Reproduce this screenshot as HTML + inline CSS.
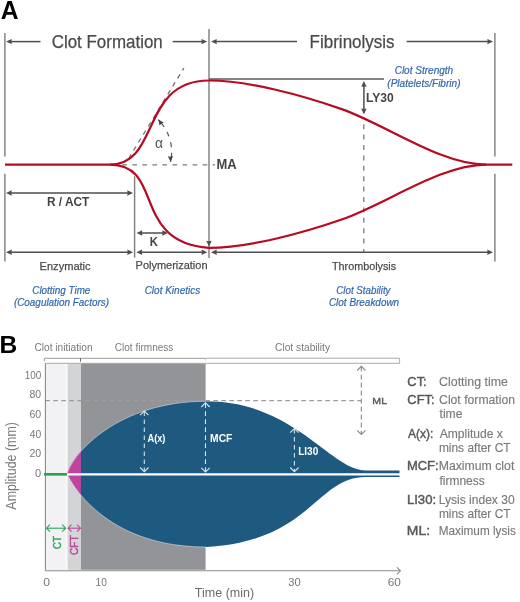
<!DOCTYPE html>
<html><head><meta charset="utf-8"><style>
html,body{margin:0;padding:0;background:#fff;}
svg{display:block;will-change:transform;font-family:"Liberation Sans",sans-serif;}
</style></head><body>
<svg width="520" height="602" viewBox="0 0 520 602">
<text x="0.68" y="19.10" font-size="25.60" font-weight="bold" font-style="normal" fill="#000" textLength="17.79" lengthAdjust="spacingAndGlyphs">A</text>
<line x1="4.90" y1="33.00" x2="4.90" y2="156.40" stroke="#7c7c7c" stroke-width="1.40"/>
<line x1="4.90" y1="173.70" x2="4.90" y2="261.50" stroke="#7c7c7c" stroke-width="1.40"/>
<line x1="494.90" y1="33.00" x2="494.90" y2="156.40" stroke="#7c7c7c" stroke-width="1.40"/>
<line x1="494.90" y1="173.70" x2="494.90" y2="261.50" stroke="#7c7c7c" stroke-width="1.40"/>
<line x1="209.00" y1="29.00" x2="209.00" y2="258.00" stroke="#7c7c7c" stroke-width="1.40"/>
<line x1="134.60" y1="176.30" x2="134.60" y2="257.60" stroke="#7c7c7c" stroke-width="1.40"/>
<line x1="10.50" y1="41.60" x2="40.50" y2="41.60" stroke="#4b4f52" stroke-width="1.50"/>
<path d="M6.00 41.60L11.80 38.90L11.40 41.60L11.80 44.30Z" fill="#4b4f52" stroke="none" stroke-width="0.00"/>
<line x1="172.70" y1="41.60" x2="202.70" y2="41.60" stroke="#4b4f52" stroke-width="1.50"/>
<path d="M207.20 41.60L201.40 44.30L201.80 41.60L201.40 38.90Z" fill="#4b4f52" stroke="none" stroke-width="0.00"/>
<line x1="215.50" y1="41.60" x2="297.00" y2="41.60" stroke="#4b4f52" stroke-width="1.50"/>
<path d="M211.00 41.60L216.80 38.90L216.40 41.60L216.80 44.30Z" fill="#4b4f52" stroke="none" stroke-width="0.00"/>
<line x1="406.60" y1="41.60" x2="488.60" y2="41.60" stroke="#4b4f52" stroke-width="1.50"/>
<path d="M493.10 41.60L487.30 44.30L487.70 41.60L487.30 38.90Z" fill="#4b4f52" stroke="none" stroke-width="0.00"/>
<text x="51.65" y="47.80" font-size="19.00" font-weight="normal" font-style="normal" fill="#4a4a4a" textLength="111.11" lengthAdjust="spacingAndGlyphs" stroke="#4a4a4a" stroke-width="0.25">Clot Formation</text>
<text x="309.60" y="47.70" font-size="18.60" font-weight="normal" font-style="normal" fill="#4a4a4a" textLength="85.02" lengthAdjust="spacingAndGlyphs" stroke="#4a4a4a" stroke-width="0.25">Fibrinolysis</text>
<line x1="209.00" y1="79.10" x2="384.00" y2="79.10" stroke="#5a5a5a" stroke-width="1.50"/>
<text x="394.65" y="73.80" font-size="10.50" font-weight="normal" font-style="italic" fill="#3467ae" textLength="58.52" lengthAdjust="spacingAndGlyphs" stroke="#3467ae" stroke-width="0.2">Clot Strength</text>
<text x="387.32" y="86.80" font-size="10.50" font-weight="normal" font-style="italic" fill="#3467ae" textLength="73.18" lengthAdjust="spacingAndGlyphs" stroke="#3467ae" stroke-width="0.2">(Platelets/Fibrin)</text>
<line x1="363.90" y1="85.00" x2="363.90" y2="110.00" stroke="#4b4f52" stroke-width="1.50"/>
<path d="M363.90 81.00L366.60 86.80L363.90 86.40L361.20 86.80Z" fill="#4b4f52" stroke="none" stroke-width="0.00"/>
<path d="M363.90 114.40L361.20 108.60L363.90 109.00L366.60 108.60Z" fill="#4b4f52" stroke="none" stroke-width="0.00"/>
<text x="366.09" y="101.70" font-size="12.60" font-weight="bold" font-style="normal" fill="#444" textLength="27.71" lengthAdjust="spacingAndGlyphs">LY30</text>
<line x1="363.80" y1="117.50" x2="363.80" y2="252.00" stroke="#7a7a7a" stroke-width="1.30" stroke-dasharray="5 5.4" stroke-dashoffset="3.7"/>
<line x1="129.10" y1="157.70" x2="183.90" y2="68.10" stroke="#6a6a6a" stroke-width="1.20" stroke-dasharray="4.7 4.7" stroke-dashoffset="1"/>
<path d="M158.3 119.6 A46 46 0 0 1 170.6 161.8" fill="none" stroke="#555" stroke-width="1.20" stroke-dasharray="9.5 5.7 4.8 5.9 5.2 5.5 12"/>
<path d="M158.30 119.60L163.68 122.44L161.36 123.68L159.52 125.56Z" fill="#444" stroke="none" stroke-width="0.00"/>
<path d="M170.60 161.80L167.89 156.35L170.50 156.70L173.09 156.25Z" fill="#444" stroke="none" stroke-width="0.00"/>
<text x="155.01" y="147.50" font-size="14.00" font-weight="normal" font-style="normal" fill="#555" textLength="7.97" lengthAdjust="spacingAndGlyphs">α</text>
<line x1="122.25" y1="164.80" x2="215.00" y2="164.80" stroke="#7a7a7a" stroke-width="1.30" stroke-dasharray="4.6 5.45"/>
<text x="216.43" y="168.90" font-size="14.20" font-weight="bold" font-style="normal" fill="#444" textLength="20.13" lengthAdjust="spacingAndGlyphs">MA</text>
<path d="M209.00 246.60L206.30 240.80L209.00 241.20L211.70 240.80Z" fill="#4b4f52" stroke="none" stroke-width="0.00"/>
<line x1="10.50" y1="193.00" x2="128.50" y2="193.00" stroke="#4b4f52" stroke-width="1.50"/>
<path d="M6.00 193.00L11.80 190.30L11.40 193.00L11.80 195.70Z" fill="#4b4f52" stroke="none" stroke-width="0.00"/>
<path d="M133.00 193.00L127.20 195.70L127.60 193.00L127.20 190.30Z" fill="#4b4f52" stroke="none" stroke-width="0.00"/>
<text x="46.90" y="205.80" font-size="12.50" font-weight="bold" font-style="normal" fill="#444" textLength="42.44" lengthAdjust="spacingAndGlyphs">R / ACT</text>
<line x1="141.00" y1="233.00" x2="163.50" y2="233.00" stroke="#4b4f52" stroke-width="1.50"/>
<path d="M136.50 233.00L142.30 230.30L141.90 233.00L142.30 235.70Z" fill="#4b4f52" stroke="none" stroke-width="0.00"/>
<path d="M168.00 233.00L162.20 235.70L162.60 233.00L162.20 230.30Z" fill="#4b4f52" stroke="none" stroke-width="0.00"/>
<text x="149.84" y="245.50" font-size="13.20" font-weight="bold" font-style="normal" fill="#444" textLength="8.17" lengthAdjust="spacingAndGlyphs">K</text>
<line x1="10.50" y1="252.20" x2="128.60" y2="252.20" stroke="#4b4f52" stroke-width="1.50"/>
<path d="M6.00 252.20L11.80 249.50L11.40 252.20L11.80 254.90Z" fill="#4b4f52" stroke="none" stroke-width="0.00"/>
<path d="M133.10 252.20L127.30 254.90L127.70 252.20L127.30 249.50Z" fill="#4b4f52" stroke="none" stroke-width="0.00"/>
<line x1="140.90" y1="252.20" x2="202.80" y2="252.20" stroke="#4b4f52" stroke-width="1.50"/>
<path d="M136.40 252.20L142.20 249.50L141.80 252.20L142.20 254.90Z" fill="#4b4f52" stroke="none" stroke-width="0.00"/>
<path d="M207.30 252.20L201.50 254.90L201.90 252.20L201.50 249.50Z" fill="#4b4f52" stroke="none" stroke-width="0.00"/>
<line x1="215.50" y1="252.20" x2="488.50" y2="252.20" stroke="#4b4f52" stroke-width="1.50"/>
<path d="M211.00 252.20L216.80 249.50L216.40 252.20L216.80 254.90Z" fill="#4b4f52" stroke="none" stroke-width="0.00"/>
<path d="M493.00 252.20L487.20 254.90L487.60 252.20L487.20 249.50Z" fill="#4b4f52" stroke="none" stroke-width="0.00"/>
<text x="39.59" y="269.60" font-size="11.80" font-weight="normal" font-style="normal" fill="#4a4a4a" textLength="51.02" lengthAdjust="spacingAndGlyphs" stroke="#4a4a4a" stroke-width="0.25">Enzymatic</text>
<text x="135.60" y="269.40" font-size="11.80" font-weight="normal" font-style="normal" fill="#4a4a4a" textLength="71.90" lengthAdjust="spacingAndGlyphs" stroke="#4a4a4a" stroke-width="0.25">Polymerization</text>
<text x="332.06" y="269.60" font-size="11.80" font-weight="normal" font-style="normal" fill="#4a4a4a" textLength="64.03" lengthAdjust="spacingAndGlyphs" stroke="#4a4a4a" stroke-width="0.25">Thrombolysis</text>
<text x="32.26" y="293.50" font-size="10.30" font-weight="normal" font-style="italic" fill="#3467ae" textLength="58.11" lengthAdjust="spacingAndGlyphs" stroke="#3467ae" stroke-width="0.2">Clotting Time</text>
<text x="13.93" y="306.20" font-size="10.30" font-weight="normal" font-style="italic" fill="#3467ae" textLength="95.17" lengthAdjust="spacingAndGlyphs" stroke="#3467ae" stroke-width="0.2">(Coagulation Factors)</text>
<text x="144.65" y="293.50" font-size="10.30" font-weight="normal" font-style="italic" fill="#3467ae" textLength="55.55" lengthAdjust="spacingAndGlyphs" stroke="#3467ae" stroke-width="0.2">Clot Kinetics</text>
<text x="336.26" y="293.50" font-size="10.30" font-weight="normal" font-style="italic" fill="#3467ae" textLength="54.25" lengthAdjust="spacingAndGlyphs" stroke="#3467ae" stroke-width="0.2">Clot Stability</text>
<text x="328.95" y="306.30" font-size="10.30" font-weight="normal" font-style="italic" fill="#3467ae" textLength="70.21" lengthAdjust="spacingAndGlyphs" stroke="#3467ae" stroke-width="0.2">Clot Breakdown</text>
<path d="M5 164.6H110C160.3 164.6 140.3 80.5 209 80.5C247.5 80.5 301.3 94.9 341.7 109.1C386.7 125 440.6 164.6 486 164.6H512.3" fill="none" stroke="#b80a22" stroke-width="2.20"/>
<path d="M110 164.6C164.5 164.6 131.1 242.4 209 247.9C247.5 247.86 301.3 233.6 341.7 219.54C386.7 203.8 440.6 164.6 486 164.6" fill="none" stroke="#b80a22" stroke-width="2.20"/>
<text x="-0.46" y="352.80" font-size="24.80" font-weight="bold" font-style="normal" fill="#000" textLength="17.76" lengthAdjust="spacingAndGlyphs">B</text>
<text x="34.49" y="351.20" font-size="10.00" font-weight="normal" font-style="normal" fill="#7a7a7a" textLength="58.15" lengthAdjust="spacingAndGlyphs">Clot initiation</text>
<text x="114.80" y="351.40" font-size="10.00" font-weight="normal" font-style="normal" fill="#7a7a7a" textLength="58.55" lengthAdjust="spacingAndGlyphs">Clot firmness</text>
<text x="275.09" y="351.40" font-size="10.00" font-weight="normal" font-style="normal" fill="#7a7a7a" textLength="54.94" lengthAdjust="spacingAndGlyphs">Clot stability</text>
<rect x="45.3" y="363.3" width="20.3" height="206.5" fill="#f2f2f4"/>
<rect x="65.8" y="363.3" width="1.6" height="206.5" fill="#f7f7f8"/>
<rect x="67.6" y="363.3" width="13.4" height="206.5" fill="#d3d4d6"/>
<rect x="81" y="363.3" width="124.6" height="206.5" fill="#939498"/>
<line x1="44.30" y1="358.30" x2="205.60" y2="358.30" stroke="#999" stroke-width="1.00"/>
<line x1="44.30" y1="358.30" x2="44.30" y2="361.20" stroke="#999" stroke-width="1.00"/>
<line x1="80.50" y1="358.30" x2="80.50" y2="361.60" stroke="#666" stroke-width="1.00"/>
<path d="M205.6 358.2H399.6V363.3H205.6" fill="none" stroke="#aaa" stroke-width="1.00"/>
<line x1="205.60" y1="358.20" x2="205.60" y2="360.50" stroke="#bbb" stroke-width="0.80"/>
<line x1="45.30" y1="363.30" x2="205.60" y2="363.30" stroke="#aaa" stroke-width="1.00"/>
<clipPath id="cl"><path d="M67.2 474C72.8 452.9 118.5 401.3 206 401.3C294.8 401.3 330.4 470.4 366 470.4H399.5V477H366C315.6 477 311.5 541.2 206 547C112.3 547 75.2 491.4 67.2 474Z"/></clipPath>
<path d="M67.2 474C72.8 452.9 118.5 401.3 206 401.3C294.8 401.3 330.4 470.4 366 470.4H399.5V477H366C315.6 477 311.5 541.2 206 547C112.3 547 75.2 491.4 67.2 474Z" fill="#1e5a80" stroke="none" stroke-width="0.00"/>
<rect x="60" y="380" width="20.9" height="200" fill="#c0449e" clip-path="url(#cl)"/>
<clipPath id="cl2"><rect x="45" y="360" width="161" height="212"/></clipPath>
<path d="M67.2 474C72.8 452.9 118.5 401.3 206 401.3C294.8 401.3 330.4 470.4 366 470.4H399.5V477H366C315.6 477 311.5 541.2 206 547C112.3 547 75.2 491.4 67.2 474Z" fill="none" stroke="#fff" stroke-width="1.00" stroke-opacity="0.45" clip-path="url(#cl2)"/>
<line x1="45.30" y1="400.70" x2="361.00" y2="400.70" stroke="#9c9c9c" stroke-width="1.30" stroke-dasharray="4.6 3.4"/>
<line x1="67.00" y1="474.40" x2="400.00" y2="474.40" stroke="#fff" stroke-width="2.40"/>
<line x1="44.00" y1="474.20" x2="67.00" y2="474.20" stroke="#27a24c" stroke-width="2.40"/>
<line x1="45.40" y1="363.30" x2="45.40" y2="570.80" stroke="#8a8a8a" stroke-width="1.10"/>
<line x1="45.40" y1="570.80" x2="400.00" y2="570.80" stroke="#8a8a8a" stroke-width="1.10"/>
<path d="M396.90 574.30L400.40 570.80L396.90 567.30" fill="none" stroke="#8a8a8a" stroke-width="1.10" stroke-linejoin="miter"/>
<line x1="44.00" y1="474.20" x2="67.00" y2="474.20" stroke="#27a24c" stroke-width="2.40"/>
<text x="24.66" y="378.80" font-size="10.30" font-weight="normal" font-style="normal" fill="#777" textLength="16.52" lengthAdjust="spacingAndGlyphs">100</text>
<text x="29.55" y="398.40" font-size="10.30" font-weight="normal" font-style="normal" fill="#777" textLength="11.66" lengthAdjust="spacingAndGlyphs">80</text>
<text x="29.47" y="418.00" font-size="10.30" font-weight="normal" font-style="normal" fill="#777" textLength="11.75" lengthAdjust="spacingAndGlyphs">60</text>
<text x="29.77" y="437.60" font-size="10.30" font-weight="normal" font-style="normal" fill="#777" textLength="11.44" lengthAdjust="spacingAndGlyphs">40</text>
<text x="29.47" y="457.20" font-size="10.30" font-weight="normal" font-style="normal" fill="#777" textLength="11.75" lengthAdjust="spacingAndGlyphs">20</text>
<text x="35.06" y="476.80" font-size="10.30" font-weight="normal" font-style="normal" fill="#777" textLength="6.17" lengthAdjust="spacingAndGlyphs">0</text>
<text x="-509.63" y="16.30" font-size="13.80" font-weight="normal" font-style="normal" fill="#777" textLength="87.47" lengthAdjust="spacingAndGlyphs" transform="rotate(-90 0 0)">Amplitude (mm)</text>
<text x="43.31" y="585.80" font-size="10.30" font-weight="normal" font-style="normal" fill="#777" textLength="6.76" lengthAdjust="spacingAndGlyphs">0</text>
<text x="95.53" y="585.80" font-size="10.30" font-weight="normal" font-style="normal" fill="#777" textLength="11.37" lengthAdjust="spacingAndGlyphs">10</text>
<text x="288.28" y="585.80" font-size="10.30" font-weight="normal" font-style="normal" fill="#777" textLength="12.47" lengthAdjust="spacingAndGlyphs">30</text>
<text x="387.71" y="585.80" font-size="10.30" font-weight="normal" font-style="normal" fill="#777" textLength="13.16" lengthAdjust="spacingAndGlyphs">60</text>
<text x="194.82" y="596.90" font-size="13.20" font-weight="normal" font-style="normal" fill="#6c6c6c" textLength="59.34" lengthAdjust="spacingAndGlyphs">Time (min)</text>
<line x1="144.30" y1="411.50" x2="144.30" y2="471.20" stroke="#d4e3ec" stroke-width="1.10" stroke-dasharray="4.6 3.4"/>
<path d="M148.50 415.20L144.30 411.00L140.10 415.20" fill="none" stroke="#d4e3ec" stroke-width="1.10" stroke-linejoin="miter"/>
<path d="M140.10 467.50L144.30 471.70L148.50 467.50" fill="none" stroke="#d4e3ec" stroke-width="1.10" stroke-linejoin="miter"/>
<line x1="205.50" y1="403.30" x2="205.50" y2="471.50" stroke="#d4e3ec" stroke-width="1.10" stroke-dasharray="4.6 3.4"/>
<path d="M209.70 407.00L205.50 402.80L201.30 407.00" fill="none" stroke="#d4e3ec" stroke-width="1.10" stroke-linejoin="miter"/>
<path d="M201.30 467.80L205.50 472.00L209.70 467.80" fill="none" stroke="#d4e3ec" stroke-width="1.10" stroke-linejoin="miter"/>
<line x1="294.40" y1="429.00" x2="294.40" y2="471.20" stroke="#d4e3ec" stroke-width="1.10" stroke-dasharray="4.6 3.4"/>
<path d="M298.60 432.70L294.40 428.50L290.20 432.70" fill="none" stroke="#d4e3ec" stroke-width="1.10" stroke-linejoin="miter"/>
<path d="M290.20 467.50L294.40 471.70L298.60 467.50" fill="none" stroke="#d4e3ec" stroke-width="1.10" stroke-linejoin="miter"/>
<line x1="361.30" y1="366.80" x2="361.30" y2="434.00" stroke="#888" stroke-width="1.10" stroke-dasharray="4.6 3.4"/>
<path d="M365.50 370.50L361.30 366.30L357.10 370.50" fill="none" stroke="#888" stroke-width="1.10" stroke-linejoin="miter"/>
<path d="M357.10 430.30L361.30 434.50L365.50 430.30" fill="none" stroke="#888" stroke-width="1.10" stroke-linejoin="miter"/>
<text x="147.47" y="441.60" font-size="10.30" font-weight="bold" font-style="normal" fill="#fff" textLength="17.99" lengthAdjust="spacingAndGlyphs">A(x)</text>
<text x="210.11" y="441.80" font-size="10.30" font-weight="bold" font-style="normal" fill="#fff" textLength="22.26" lengthAdjust="spacingAndGlyphs">MCF</text>
<text x="298.23" y="455.20" font-size="10.30" font-weight="bold" font-style="normal" fill="#fff" textLength="19.98" lengthAdjust="spacingAndGlyphs">LI30</text>
<text x="372.32" y="404.20" font-size="9.80" font-weight="normal" font-style="normal" fill="#555" textLength="14.74" lengthAdjust="spacingAndGlyphs" stroke="#555" stroke-width="0.35">ML</text>
<line x1="47.00" y1="528.20" x2="65.00" y2="528.20" stroke="#2aa55a" stroke-width="1.10"/>
<path d="M49.90 524.70L46.40 528.20L49.90 531.70" fill="none" stroke="#2aa55a" stroke-width="1.10" stroke-linejoin="miter"/>
<path d="M62.20 531.70L65.70 528.20L62.20 524.70" fill="none" stroke="#2aa55a" stroke-width="1.10" stroke-linejoin="miter"/>
<line x1="68.50" y1="528.20" x2="80.00" y2="528.20" stroke="#b5479a" stroke-width="1.10"/>
<path d="M71.50 524.70L68.00 528.20L71.50 531.70" fill="none" stroke="#b5479a" stroke-width="1.10" stroke-linejoin="miter"/>
<path d="M77.00 531.70L80.50 528.20L77.00 524.70" fill="none" stroke="#b5479a" stroke-width="1.10" stroke-linejoin="miter"/>
<text x="-548.88" y="60.70" font-size="10.60" font-weight="normal" font-style="normal" fill="#2aa55a" textLength="12.91" lengthAdjust="spacingAndGlyphs" transform="rotate(-90 0 0)" stroke="#2aa55a" stroke-width="0.45">CT</text>
<text x="-554.90" y="77.80" font-size="10.60" font-weight="normal" font-style="normal" fill="#b5479a" textLength="19.54" lengthAdjust="spacingAndGlyphs" transform="rotate(-90 0 0)" stroke="#b5479a" stroke-width="0.45">CFT</text>
<text x="407.36" y="385.60" font-size="12.00" font-weight="normal" font-style="normal" fill="#585858" textLength="19.30" lengthAdjust="spacingAndGlyphs" stroke="#585858" stroke-width="0.4">CT:</text>
<text x="439.08" y="385.60" font-size="12.00" font-weight="normal" font-style="normal" fill="#7a7a7a" textLength="68.75" lengthAdjust="spacingAndGlyphs" stroke="#7a7a7a" stroke-width="0.15">Clotting time</text>
<text x="407.35" y="403.90" font-size="12.00" font-weight="normal" font-style="normal" fill="#585858" textLength="27.32" lengthAdjust="spacingAndGlyphs" stroke="#585858" stroke-width="0.4">CFT:</text>
<text x="439.09" y="403.90" font-size="12.00" font-weight="normal" font-style="normal" fill="#7a7a7a" textLength="75.90" lengthAdjust="spacingAndGlyphs" stroke="#7a7a7a" stroke-width="0.15">Clot formation</text>
<text x="439.52" y="418.10" font-size="12.00" font-weight="normal" font-style="normal" fill="#7a7a7a" textLength="22.92" lengthAdjust="spacingAndGlyphs" stroke="#7a7a7a" stroke-width="0.15">time</text>
<text x="407.97" y="438.00" font-size="12.00" font-weight="normal" font-style="normal" fill="#585858" textLength="25.42" lengthAdjust="spacingAndGlyphs" stroke="#585858" stroke-width="0.4">A(x):</text>
<text x="439.67" y="438.00" font-size="12.00" font-weight="normal" font-style="normal" fill="#7a7a7a" textLength="63.18" lengthAdjust="spacingAndGlyphs" stroke="#7a7a7a" stroke-width="0.15">Amplitude x</text>
<text x="438.89" y="452.20" font-size="12.00" font-weight="normal" font-style="normal" fill="#7a7a7a" textLength="71.69" lengthAdjust="spacingAndGlyphs" stroke="#7a7a7a" stroke-width="0.15">mins after CT</text>
<text x="406.93" y="470.30" font-size="12.00" font-weight="normal" font-style="normal" fill="#585858" textLength="31.65" lengthAdjust="spacingAndGlyphs" stroke="#585858" stroke-width="0.4">MCF:</text>
<text x="438.69" y="470.30" font-size="12.00" font-weight="normal" font-style="normal" fill="#7a7a7a" textLength="75.60" lengthAdjust="spacingAndGlyphs" stroke="#7a7a7a" stroke-width="0.15">Maximum clot</text>
<text x="439.52" y="484.50" font-size="12.00" font-weight="normal" font-style="normal" fill="#7a7a7a" textLength="45.11" lengthAdjust="spacingAndGlyphs" stroke="#7a7a7a" stroke-width="0.15">firmness</text>
<text x="406.91" y="503.50" font-size="12.00" font-weight="normal" font-style="normal" fill="#585858" textLength="29.26" lengthAdjust="spacingAndGlyphs" stroke="#585858" stroke-width="0.4">LI30:</text>
<text x="438.71" y="503.50" font-size="12.00" font-weight="normal" font-style="normal" fill="#7a7a7a" textLength="75.95" lengthAdjust="spacingAndGlyphs" stroke="#7a7a7a" stroke-width="0.15">Lysis index 30</text>
<text x="438.89" y="517.70" font-size="12.00" font-weight="normal" font-style="normal" fill="#7a7a7a" textLength="71.69" lengthAdjust="spacingAndGlyphs" stroke="#7a7a7a" stroke-width="0.15">mins after CT</text>
<text x="406.85" y="535.30" font-size="12.00" font-weight="normal" font-style="normal" fill="#585858" textLength="23.19" lengthAdjust="spacingAndGlyphs" stroke="#585858" stroke-width="0.4">ML:</text>
<text x="438.73" y="535.30" font-size="12.00" font-weight="normal" font-style="normal" fill="#7a7a7a" textLength="77.09" lengthAdjust="spacingAndGlyphs" stroke="#7a7a7a" stroke-width="0.15">Maximum lysis</text>
</svg>
</body></html>
